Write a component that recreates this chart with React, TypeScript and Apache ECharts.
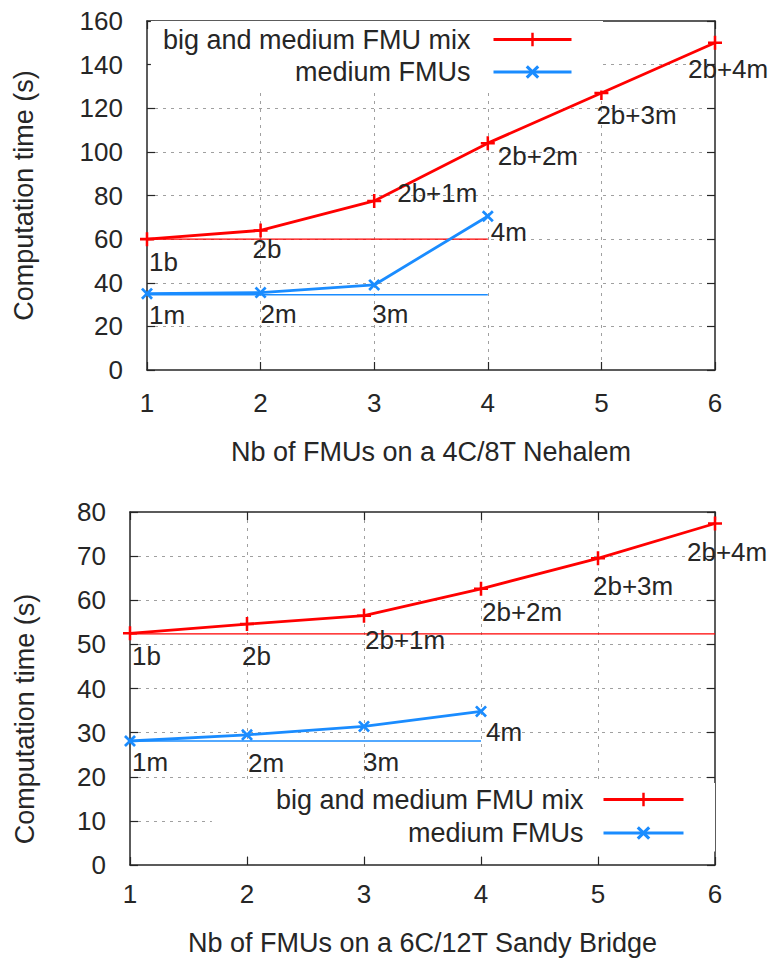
import React, { useEffect, useRef } from "react";
import * as echarts from "echarts";

// ---------- data ----------
const xValues = [1, 2, 3, 4, 5, 6];

const MIX = "big and medium FMU mix";
const MED = "medium FMUs";

// Top chart: 4C/8T Nehalem
const nehalemMix = [60, 64, 77.5, 104, 127, 150];
const nehalemMedium = [35, 35.5, 39, 70.5];
const nehalemMixRef = 60;
const nehalemMixRefEnd = 4;
const nehalemMediumRef = 34.5;
const nehalemMediumRefEnd = 4;

// Bottom chart: 6C/12T Sandy Bridge
const sandyMix = [52.5, 54.6, 56.5, 62.6, 69.5, 77.4];
const sandyMedium = [28.1, 29.5, 31.4, 34.8];
const sandyMixRef = 52.4;
const sandyMixRefEnd = 6;
const sandyMediumRef = 28.1;
const sandyMediumRefEnd = 4;

const mixLabels = ["1b", "2b", "2b+1m", "2b+2m", "2b+3m", "2b+4m"];
const mediumLabels = ["1m", "2m", "3m", "4m"];

const topYTicks = { min: 0, max: 160, interval: 20 };
const bottomYTicks = { min: 0, max: 80, interval: 10 };

const topXTitle = "Nb of FMUs on a 4C/8T Nehalem";
const bottomXTitle = "Nb of FMUs on a 6C/12T Sandy Bridge";
const yTitle = "Computation time (s)";

// ---------- styles ----------
const RED = "#ff0000";
const BLUE = "#1a8cff";
const TEXT = "#262626";
const FONT = "Liberation Sans";

const PLUS =
  "path://M4.1,0 L5.9,0 L5.9,4.1 L10,4.1 L10,5.9 L5.9,5.9 L5.9,10 L4.1,10 L4.1,5.9 L0,5.9 L0,4.1 L4.1,4.1 Z";
const CROSS =
  "path://M0,1.6 L1.6,0 L5,3.4 L8.4,0 L10,1.6 L6.6,5 L10,8.4 L8.4,10 L5,6.6 L1.6,10 L0,8.4 L3.4,5 Z";

// label offsets (text left edge / vertical centre relative to the point)
const topMixOffsets = [[2, 23], [-8, 19], [23, -8], [10, 13], [-5, 22], [-27, 26]];
const topMedOffsets = [[2, 21], [0, 21], [-2, 29], [3, 16]];
const botMixOffsets = [[2, 23], [-5, 32], [1, 24], [1, 23], [-5, 28], [-28, 29]];
const botMedOffsets = [[2, 21], [1, 28], [-1, 36], [5, 21]];

function mainSeries(
  name: string,
  axisIdx: number,
  ys: number[],
  labels: string[],
  offsets: number[][],
  color: string,
  symbol: string,
  size: number
) {
  return {
    type: "line",
    name,
    xAxisIndex: axisIdx,
    yAxisIndex: axisIdx,
    clip: false,
    symbol,
    symbolSize: size,
    lineStyle: { color, width: 2.8 },
    itemStyle: { color },
    z: 3,
    data: ys.map((y, i) => ({
      value: [xValues[i], y],
      label: { offset: offsets[i] },
    })),
    label: {
      show: true,
      position: "inside",
      align: "left",
      verticalAlign: "middle",
      color: TEXT,
      fontSize: 26,
      fontFamily: FONT,
      lineHeight: 26,
      formatter: (p: any) => labels[p.dataIndex],
    },
  };
}

function refSeries(axisIdx: number, y: number, xEnd: number, color: string, key: string) {
  return {
    type: "line",
    name: key,
    xAxisIndex: axisIdx,
    yAxisIndex: axisIdx,
    symbol: "none",
    silent: true,
    lineStyle: { color, width: 1.3 },
    z: 2,
    data: [
      [xValues[0], y],
      [xEnd, y],
    ],
  };
}

function xAxes(gridIndex: number, labelMargin: number, name: string, nameGap: number) {
  const common = {
    type: "value",
    gridIndex,
    min: 1,
    max: 6,
    interval: 1,
    axisLine: { show: true, onZero: false, lineStyle: { color: TEXT, width: 1.5 } },
    axisTick: { show: true, inside: true, length: 8, lineStyle: { color: TEXT, width: 1.2 } },
  };
  return [
    {
      ...common,
      position: "bottom",
      name,
      nameLocation: "middle",
      nameGap,
      nameTextStyle: { fontSize: 27, fontFamily: FONT, color: TEXT, lineHeight: 27 },
      axisLabel: { fontSize: 26, fontFamily: FONT, color: TEXT, margin: labelMargin },
      splitLine: {
        show: true,
        showMinLine: false,
        showMaxLine: false,
        lineStyle: { color: "#a0a0a0", width: 1, type: [3, 5] },
      },
    },
    {
      ...common,
      position: "top",
      axisLabel: { show: false },
      splitLine: { show: false },
    },
  ];
}

function yAxes(
  gridIndex: number,
  ticks: { min: number; max: number; interval: number },
  nameGap: number,
  namePadding: number[]
) {
  const common = {
    type: "value",
    gridIndex,
    min: ticks.min,
    max: ticks.max,
    interval: ticks.interval,
    axisLine: { show: true, onZero: false, lineStyle: { color: TEXT, width: 1.5 } },
    axisTick: { show: true, inside: true, length: 8, lineStyle: { color: TEXT, width: 1.2 } },
  };
  return [
    {
      ...common,
      position: "left",
      name: yTitle,
      nameLocation: "middle",
      nameRotate: 90,
      nameGap,
      nameTextStyle: {
        fontSize: 27,
        fontFamily: FONT,
        color: TEXT,
        lineHeight: 27,
        padding: namePadding,
      },
      axisLabel: { fontSize: 26, fontFamily: FONT, color: TEXT, margin: 24 },
      splitLine: {
        show: true,
        showMinLine: false,
        showMaxLine: false,
        lineStyle: { color: "#a0a0a0", width: 1, type: [3, 5] },
      },
    },
    {
      ...common,
      position: "right",
      axisLabel: { show: false },
      splitLine: { show: false },
    },
  ];
}

function legend(right: number, top: number, padding: number[], textGap: number, itemWidth: number, itemGap: number) {
  return {
    data: [MIX, MED],
    orient: "vertical",
    align: "right",
    right,
    top,
    padding,
    itemGap,
    itemWidth,
    itemHeight: 17,
    backgroundColor: "#ffffff",
    selectedMode: false,
    lineStyle: { width: 3 },
    textStyle: {
      fontSize: 27,
      fontFamily: FONT,
      color: TEXT,
      lineHeight: 27,
      padding: [0, textGap, 0, 0],
    },
  };
}

export default function App() {
  const ref = useRef<HTMLDivElement>(null);

  useEffect(() => {
    if (!ref.current) return;
    const chart = echarts.init(ref.current, null, { renderer: "svg" });
    chart.setOption({
      animation: false,
      backgroundColor: "#ffffff",
      textStyle: { fontFamily: FONT },
      grid: [
        { left: 147, top: 21, width: 568, height: 349, containLabel: false },
        { left: 130, top: 512, width: 585, height: 353, containLabel: false },
      ],
      xAxis: [
        ...xAxes(0, 19.5, topXTitle, 68.5),
        ...xAxes(1, 16, bottomXTitle, 64),
      ],
      yAxis: [
        ...yAxes(0, topYTicks, 110, [0, 0, 0, 0]),
        ...yAxes(1, bottomYTicks, 92, [0, 61, 0, 0]),
      ],
      legend: [
        legend(171, 21, [5, 30, 5, 12], 18, 78, 5.5),
        legend(59, 783, [3, 30, 5, 64], 15, 80, 6.5),
      ],
      series: [
        refSeries(0, nehalemMixRef, nehalemMixRefEnd, RED, "ref-mix-top"),
        refSeries(0, nehalemMediumRef, nehalemMediumRefEnd, BLUE, "ref-med-top"),
        mainSeries(MIX, 0, nehalemMix, mixLabels, topMixOffsets, RED, PLUS, 14),
        mainSeries(MED, 0, nehalemMedium, mediumLabels, topMedOffsets, BLUE, CROSS, 12),
        refSeries(2, sandyMixRef, sandyMixRefEnd, RED, "ref-mix-bottom"),
        refSeries(2, sandyMediumRef, sandyMediumRefEnd, BLUE, "ref-med-bottom"),
        mainSeries(MIX, 2, sandyMix, mixLabels, botMixOffsets, RED, PLUS, 14),
        mainSeries(MED, 2, sandyMedium, mediumLabels, botMedOffsets, BLUE, CROSS, 12),
      ],
    });
    return () => chart.dispose();
  }, []);

  return (
    <div
      ref={ref}
      style={{ position: "absolute", left: 0, top: 0, width: 774, height: 963 }}
    />
  );
}
